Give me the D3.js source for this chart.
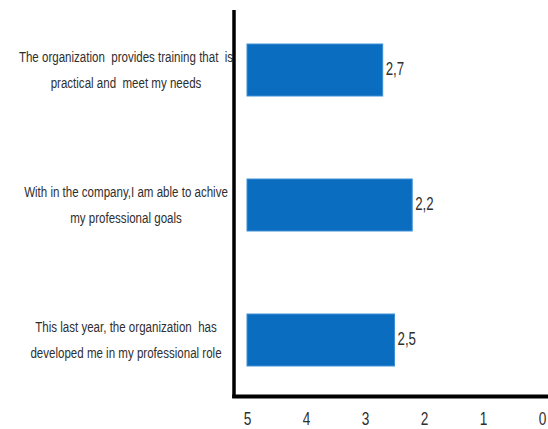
<!DOCTYPE html>
<html>
<head>
<meta charset="utf-8">
<script src="https://cdn.jsdelivr.net/npm/d3@7"></script>
<style>
  html, body { margin: 0; padding: 0; background: #fff; }
  svg { display: block; }
  text { font-family: "Liberation Sans", Arial, sans-serif; fill: #2f2f2f; white-space: pre; }
</style>
</head>
<body>
<svg id="chart" width="548" height="429"></svg>
<script>
// Survey statements (each split into its two printed lines)
const categories = [
  "The organization provides training that is practical and meet my needs",
  "With in the company,I am able to achive my professional goals",
  "This last year, the organization has developed me in my professional role"
];
const categoryLines = [
  ["The organization  provides training that  is", "practical and  meet my needs"],
  ["With in the company,I am able to achive", "my professional goals"],
  ["This last year, the organization  has", "developed me in my professional role"]
];
const values = [2.7, 2.2, 2.5];
const valueLabels = ["2,7", "2,2", "2,5"];
const tickValues = [5, 4, 3, 2, 1, 0];

const svg = d3.select("#chart");
const W = 548;
const squeeze = 0.76; // condensed lettering

// Reversed value axis: 5 on the left, 0 on the right
const x = d3.scaleLinear().domain([5, 0]).range([247, 542]);
const y = d3.scaleBand().domain(categories).range([2.5, 407.5])
  .paddingInner(0.615).paddingOuter(0.3075);

// Bars run from the axis origin (5) to each value
svg.append("g").selectAll("rect")
  .data(categories)
  .join("rect")
  .attr("x", x(5))
  .attr("y", d => y(d))
  .attr("width", (d, i) => x(values[i]) - x(5))
  .attr("height", y.bandwidth())
  .attr("fill", "#0a6dc0")
  .attr("stroke", "#3d8fd6")
  .attr("stroke-width", 1);

// Value labels at the bar ends
svg.append("g").selectAll("g")
  .data(categories)
  .join("g")
  .attr("transform", (d, i) => `translate(${x(values[i]) + 3},${y(d) + y.bandwidth() / 2}) scale(${squeeze},1)`)
  .append("text")
  .attr("dominant-baseline", "middle")
  .attr("font-size", 17.5)
  .text((d, i) => valueLabels[i]);

// Category labels, two centred lines per bar
const labelG = svg.append("g").selectAll("g")
  .data(categories)
  .join("g")
  .attr("transform", d => `translate(126,${y(d) + y.bandwidth() / 2}) scale(${squeeze},1)`);
labelG.selectAll("text")
  .data((d, i) => categoryLines[i].map((t, j) => ({ t, j })))
  .join("text")
  .attr("text-anchor", "middle")
  .attr("dominant-baseline", "middle")
  .attr("font-size", 15.2)
  .attr("y", d => d.j === 0 ? -12.5 : 14)
  .text(d => d.t);

// Bottom axis with tick labels only
const axisG = svg.append("g")
  .attr("transform", "translate(0,397)")
  .call(d3.axisBottom(x).tickValues(tickValues).tickSize(0).tickPadding(0).tickFormat(d3.format("d")));
axisG.select(".domain").remove();
axisG.selectAll("text")
  .attr("font-size", 18)
  .attr("fill", "#2f2f2f")
  .attr("dy", null)
  .attr("y", 23)
  .attr("dominant-baseline", "middle")
  .attr("transform", `translate(0,23) scale(${squeeze},1) translate(0,-23)`);

// Axis frame lines
const axisLeft = x(5) - 13;
svg.append("line")
  .attr("x1", axisLeft).attr("x2", axisLeft)
  .attr("y1", 10).attr("y2", 398)
  .attr("stroke", "#000").attr("stroke-width", 3.5);
svg.append("line")
  .attr("x1", axisLeft - 1.75).attr("x2", W)
  .attr("y1", 396.5).attr("y2", 396.5)
  .attr("stroke", "#000").attr("stroke-width", 4);
</script>
</body>
</html>
